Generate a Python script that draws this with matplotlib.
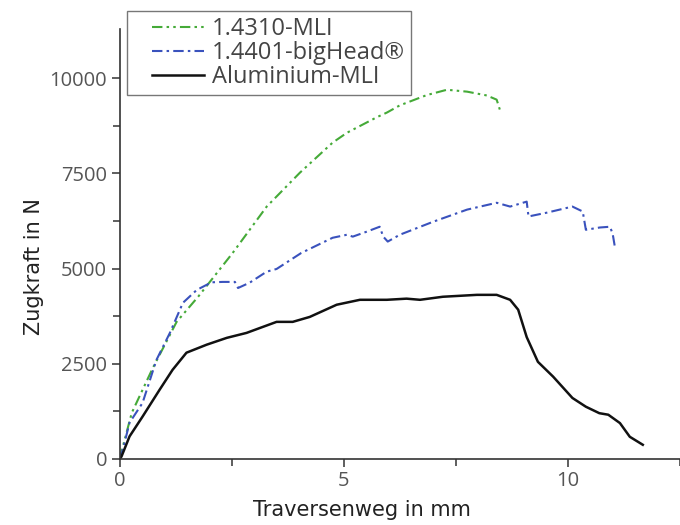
import matplotlib
matplotlib.use('Agg')
from matplotlib import pyplot as plt
from matplotlib.lines import Line2D
from matplotlib.legend_handler import HandlerLine2D

# Werte (Traversenweg in mm, Zugkraft in N)
mli_x = [0, 0.07, 0.27, 0.74, 1.27, 1.75, 2.52, 3.28, 4.02, 4.75, 5.07, 5.74,
         5.96, 6.25, 6.85, 7.30, 7.75, 8.19, 8.41, 8.48]
mli_y = [0, 320, 1210, 2390, 3600, 4260, 5410, 6630, 7520, 8310, 8570, 8980,
         9100, 9290, 9560, 9700, 9650, 9550, 9440, 9180]

bighead_x = [0, 0.07, 0.22, 0.51, 0.82, 1.12, 1.41, 1.72, 2.05, 2.30, 2.57, 2.64,
             2.90, 3.28, 3.50, 4.05, 4.75, 5.07, 5.20, 5.51, 5.80, 5.88, 5.98,
             6.25, 6.99, 7.75, 8.41, 8.71, 9.08, 9.12, 9.53, 10.1, 10.33, 10.40,
             10.71, 10.94, 11.0, 11.05]
bighead_y = [0, 240, 950, 1470, 2600, 3310, 4100, 4440, 4640, 4650, 4650, 4490,
             4630, 4920, 4990, 5410, 5810, 5890, 5840, 5970, 6100, 5840, 5710,
             5890, 6230, 6550, 6730, 6630, 6760, 6370, 6470, 6630, 6500, 6020,
             6080, 6100, 5900, 5550]

alu_x = [0, 0.04, 0.22, 0.51, 0.89, 1.18, 1.49, 1.94, 2.39, 2.83, 3.13, 3.50,
         3.86, 4.24, 4.84, 5.36, 5.96, 6.40, 6.70, 7.21, 7.97, 8.41, 8.71, 8.89,
         9.08, 9.33, 9.67, 10.1, 10.4, 10.7, 10.9, 11.16, 11.38, 11.67]
alu_y = [0, 60, 590, 1110, 1815, 2340, 2790, 3000, 3180, 3310, 3440, 3600,
         3600, 3730, 4050, 4180, 4180, 4210, 4180, 4260, 4310, 4310, 4180, 3920,
         3200, 2550, 2160, 1600, 1370, 1200, 1160, 940, 580, 370]

labels = ['1.4310-MLI', '1.4401-bigHead\u00ae', 'Aluminium-MLI']
x_ticks = [0, 5, 10]
y_ticks = [0, 2500, 5000, 7500, 10000]

fig = plt.figure(figsize=(6.8, 5.25), dpi=100)
ax = fig.add_axes([0.176, 0.126, 0.824, 0.819])

ax.plot(mli_x, mli_y, color='#45aa38', lw=1.5, dashes=(5, 2, 1.2, 2, 1.2, 2), label=labels[0])
ax.plot(bighead_x, bighead_y, color='#3a52bd', lw=1.5, dashes=(5, 2, 1.2, 2), label=labels[1])
ax.plot(alu_x, alu_y, color='#111111', lw=1.8, label=labels[2])

ax.set_xlim(0, 12.5)
ax.set_ylim(0, 11300)
ax.set_xticks(x_ticks)
ax.set_xticks([2.5, 7.5, 12.5], minor=True)
ax.set_yticks(y_ticks)
ax.set_yticks([1250, 3750, 6250, 8750], minor=True)

for s in ['top', 'right']:
    ax.spines[s].set_visible(False)
for s in ['left', 'bottom']:
    ax.spines[s].set_color('#333333')
    ax.spines[s].set_linewidth(1.2)

ax.tick_params(which='both', direction='out', color='#333333', width=1.1)
ax.tick_params(which='major', length=6, labelsize=14.5, labelcolor='#555555', pad=3)
ax.tick_params(which='minor', length=5)
for lab in ax.get_xticklabels() + ax.get_yticklabels():
    lab.set_family('Open Sans')

ax.set_xlabel('Traversenweg in mm', fontsize=15, color='#222222')
ax.set_ylabel('Zugkraft in N', fontsize=15, color='#222222')
ax.xaxis.set_label_coords((362 - 120) / 560, -0.095)
ax.yaxis.set_label_coords(-(120 - 44) / 560, (459 - 267) / 430)

leg = fig.legend(loc='upper left', bbox_to_anchor=(127 / 680, 1 - 11 / 525),
                 prop={'family': 'Open Sans', 'size': 17}, frameon=True,
                 fancybox=False, framealpha=1, edgecolor='#777777',
                 handlelength=3.0, handletextpad=0.35, labelspacing=0.0,
                 borderpad=0.25, borderaxespad=0,
                 handler_map={Line2D: HandlerLine2D(xpad=0.8)})
leg.get_frame().set_linewidth(1.0)
for t in leg.get_texts():
    t.set_color('#444444')

fig.savefig('out.png', dpi=100)
